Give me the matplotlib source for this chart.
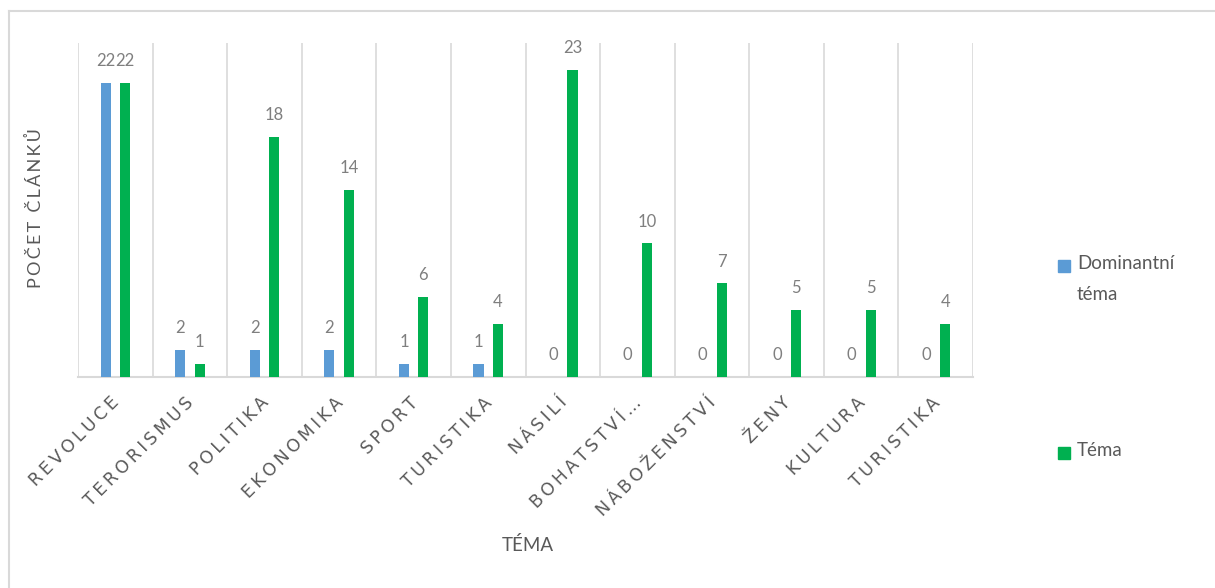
import numpy as np
import matplotlib
matplotlib.use('Agg')
import matplotlib.pyplot as plt
import matplotlib.transforms as mtransforms
from matplotlib.patches import Rectangle

plt.rcParams['font.family'] = ['Lato', 'DejaVu Sans']

# data
kategorie = ['REVOLUCE', 'TERORISMUS', 'POLITIKA', 'EKONOMIKA', 'SPORT', 'TURISTIKA',
             'NÁSILÍ', 'BOHATSTVÍ…', 'NÁBOŽENSTVÍ', 'ŽENY', 'KULTURA', 'TURISTIKA']
dominantni = [22, 2, 2, 2, 1, 1, 0, 0, 0, 0, 0, 0]
tema = [22, 1, 18, 14, 6, 4, 23, 10, 7, 5, 5, 4]

c_blue = '#5b9bd5'
c_green = '#00b050'
c_text = '#595959'
c_grid = '#d9d9d9'

W, H = 1215, 588
fig = plt.figure(figsize=(W / 100, H / 100), dpi=100)
# plot area in pixels: x 78..973, y 43..377
ax = fig.add_axes([78 / W, 1 - 377 / H, (973 - 78) / W, (377 - 43) / H])

x = np.arange(len(kategorie))
sirka = 0.135
off = 0.13
b1 = ax.bar(x - off, dominantni, sirka, color=c_blue, zorder=3)
b2 = ax.bar(x + off, tema, sirka, color=c_green, zorder=3)

for bars, vals in ((b1, dominantni), (b2, tema)):
    for r, v in zip(bars, vals):
        ax.annotate(str(v), (r.get_x() + r.get_width() / 2, v), xytext=(0, 10),
                    textcoords='offset points', ha='center', va='bottom',
                    fontsize=12, color='#7f7f7f')

ax.set_xlim(-0.5, len(kategorie) - 0.5)
ax.set_ylim(0, 25)

# svisle oddelovace kategorii
for g in np.arange(-0.5, len(kategorie) + 0.5, 1):
    ax.axvline(g, color=c_grid, lw=1.2, zorder=1)

for s in ax.spines.values():
    s.set_visible(False)
ax.spines['bottom'].set_visible(True)
ax.spines['bottom'].set_color(c_grid)
ax.spines['bottom'].set_linewidth(1.5)
ax.set_yticks([])
ax.set_xticks(x)
ts = '\u2009'
ax.set_xticklabels([ts.join(list(k)) for k in kategorie], rotation=45, ha='right',
                   va='top', rotation_mode='anchor', fontsize=12.5, color=c_text,
                   family=['DejaVu Sans'])
ax.tick_params(axis='x', length=0, pad=12)
shift = mtransforms.ScaledTranslation(-5 / 100, 0, fig.dpi_scale_trans)
for t in ax.get_xticklabels():
    t.set_transform(t.get_transform() + shift)

fig.text(35 / W, 1 - 208 / H, ts.join(list('POČET ČLÁNKŮ')), rotation=90,
         ha='center', va='center', fontsize=13, color=c_text)
fig.text(528 / W, 1 - 545 / H, 'TÉMA', ha='center', va='center',
         fontsize=13.5, color=c_text)

# legenda
leg_y = [266, 453]
leg_t = ['Dominantní\ntéma', 'Téma']
leg_c = [c_blue, c_green]
for yy, tt, cc in zip(leg_y, leg_t, leg_c):
    fig.add_artist(Rectangle((1058 / W, 1 - (yy + 6) / H), 12 / W, 12 / H,
                             color=cc, transform=fig.transFigure))
    fig.text(1077 / W, 1 - (yy - 11) / H, tt, ha='left', va='top', fontsize=13.5,
             color=c_text, linespacing=2.0)

# ramecek grafu (v orezu je videt jen levy a horni okraj)
fig.add_artist(plt.Line2D([9 / W, 9 / W], [0, 1 - 11 / H], color=c_grid, lw=1.5))
fig.add_artist(plt.Line2D([9 / W, 1], [1 - 11 / H, 1 - 11 / H], color=c_grid, lw=1.5))

fig.savefig('out.png', dpi=100)
